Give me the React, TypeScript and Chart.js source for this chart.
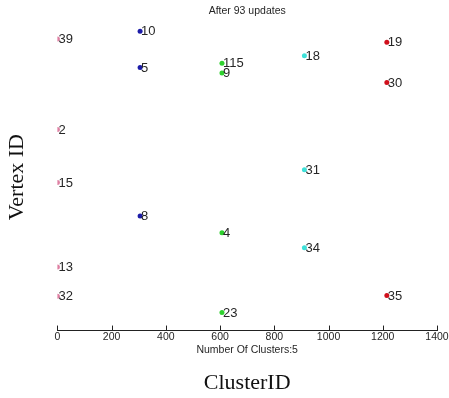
import { useEffect, useRef } from "react";
import { Chart, registerables } from "chart.js";

Chart.register(...registerables);

// Cluster IDs (x) and colours
const clusterIds = [0, 305, 607, 911, 1215];
const clusterColors = ["#de7fa2", "#1c1ca8", "#2fd12f", "#3fe0d8", "#d0101c"];

// Vertex labels per cluster
const pinkLabels = ["39", "2", "15", "13", "32"];
const blueLabels = ["10", "5", "8"];
const greenLabels = ["115", "9", "4", "23"];
const cyanLabels = ["18", "31", "34"];
const redLabels = ["19", "30", "35"];

// Vertical positions of each vertex (hidden y scale 0..100)
const pinkY = [95.0, 65.5, 48.2, 20.7, 11.2];
const blueY = [97.5, 85.7, 37.3];
const greenY = [87.1, 83.9, 31.9, 5.9];
const cyanY = [89.5, 52.4, 27.0];
const redY = [93.9, 80.8, 11.4];

const xTicks = [0, 200, 400, 600, 800, 1000, 1200, 1400];

const clusterLabels = [pinkLabels, blueLabels, greenLabels, cyanLabels, redLabels];
const clusterYs = [pinkY, blueY, greenY, cyanY, redY];

const SANS = "Arial, 'Liberation Sans', sans-serif";
const SERIF = "'Times New Roman', 'Liberation Serif', serif";

const pointLabelPlugin = {
  id: "pointLabels",
  afterDatasetsDraw(chart: any) {
    const ctx = chart.ctx;
    ctx.save();
    ctx.font = `13px ${SANS}`;
    ctx.fillStyle = "#262626";
    ctx.textAlign = "left";
    ctx.textBaseline = "middle";
    chart.data.datasets.forEach((ds: any, di: number) => {
      const meta = chart.getDatasetMeta(di);
      meta.data.forEach((el: any, i: number) => {
        ctx.fillText(ds.vertexLabels[i], el.x + 1, el.y + 0.5);
      });
    });
    ctx.restore();
  },
};

const inwardTicksPlugin = {
  id: "inwardTicks",
  afterDraw(chart: any) {
    const ctx = chart.ctx;
    const xs = chart.scales.x;
    const bottom = chart.chartArea.bottom;
    ctx.save();
    ctx.strokeStyle = "#222";
    ctx.lineWidth = 1;
    ctx.beginPath();
    xTicks.forEach((t) => {
      const px = Math.round(xs.getPixelForValue(t)) + 0.5;
      ctx.moveTo(px, bottom);
      ctx.lineTo(px, bottom - 5);
    });
    ctx.stroke();
    ctx.restore();
  },
};

export default function App() {
  const ref = useRef<HTMLCanvasElement>(null);

  useEffect(() => {
    if (!ref.current) return;
    const datasets = clusterIds.map((cid, ci) => ({
      label: "Cluster " + cid,
      data: clusterYs[ci].map((y) => ({ x: cid, y })),
      vertexLabels: clusterLabels[ci],
      backgroundColor: clusterColors[ci],
      borderColor: clusterColors[ci],
      pointRadius: 2.5,
      pointBorderWidth: 0,
    }));
    const chart = new Chart(ref.current, {
      type: "scatter",
      data: { datasets: datasets as any },
      plugins: [pointLabelPlugin, inwardTicksPlugin],
      options: {
        animation: false,
        responsive: false,
        events: [],
        layout: { padding: { left: 4, right: 0, top: 0, bottom: 2 } },
        plugins: {
          legend: { display: false },
          tooltip: { enabled: false },
          title: {
            display: true,
            text: "After 93 updates",
            fullSize: false,
            color: "#262626",
            font: { family: SANS, size: 10.5, weight: "normal" },
            padding: { top: 5, bottom: 6 },
          },
          subtitle: {
            display: true,
            position: "bottom",
            text: "ClusterID",
            fullSize: false,
            color: "#111",
            font: { family: SERIF, size: 22, weight: "normal" },
            padding: { top: 14, bottom: 0 },
          },
        },
        scales: {
          x: {
            type: "linear",
            min: 0,
            max: 1400,
            afterBuildTicks: (axis: any) => {
              axis.ticks = xTicks.map((v) => ({ value: v }));
            },
            afterFit: (axis: any) => {
              axis.paddingRight = 12;
            },
            grid: { display: false, drawTicks: false },
            border: { display: true, color: "#222", width: 1 },
            ticks: {
              color: "#262626",
              font: { family: SANS, size: 10.5, lineHeight: 1 },
              padding: 1,
              maxRotation: 0,
              callback: (v: any) => String(v),
            },
            title: {
              display: true,
              text: "Number Of Clusters:5",
              color: "#262626",
              font: { family: SANS, size: 10.5, lineHeight: 1.1 },
              padding: { top: 1, bottom: 0 },
            },
          },
          y: {
            type: "linear",
            min: 0,
            max: 100,
            grid: { display: false, drawTicks: false },
            border: { display: false },
            ticks: { display: false },
            title: {
              display: true,
              text: "Vertex ID",
              color: "#111",
              font: { family: SERIF, size: 22, weight: "normal" },
              padding: { top: 0, bottom: 27 },
            },
          },
        },
      },
    });
    return () => chart.destroy();
  }, []);

  return (
    <div style={{ position: "absolute", left: 0, top: 0, width: 449, height: 398, background: "#fff" }}>
      <canvas ref={ref} width={449} height={398} style={{ display: "block" }} />
    </div>
  );
}
